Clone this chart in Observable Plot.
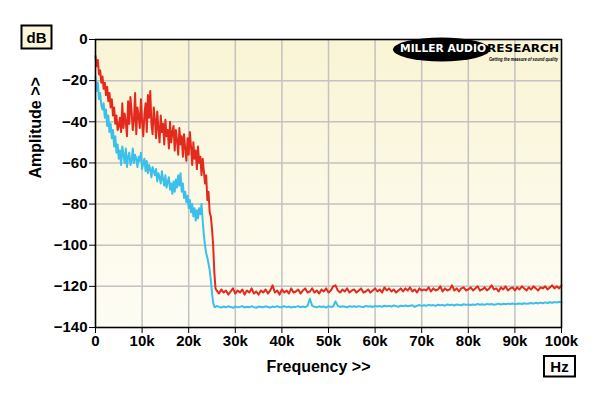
<!DOCTYPE html>
<html><head><meta charset="utf-8">
<script src="https://cdn.jsdelivr.net/npm/d3@7"></script>
<script src="https://cdn.jsdelivr.net/npm/@observablehq/plot@0.6"></script>
<style>body{margin:0;background:#fff}</style>
</head><body><div id="chart"></div>
<script>
// Frequency sampling: segment A 0..26 kHz every 0.25 kHz, segment B 26.5..100 kHz every 0.5 kHz
const stepA = 0.25, startB = 26.5, stepB = 0.5;

// Red trace (dB)
const redA = [
  -8, -13, -10, -17,   -15, -21, -18, -24,   -21, -27, -23, -30,   -26, -33, -29, -37,
  -33, -41, -37, -44,  -42, -38, -45, -31,   -43, -36, -40, -47,   -30, -41, -28, -35,
  -44, -39, -26, -46,  -33, -37, -43, -29,   -40, -47, -36, -31,   -45, -27, -38, -25,
  -41, -46, -33, -39,  -48, -35, -43, -50,   -37, -45, -41, -51,   -39, -47, -44, -53,
  -40, -50, -45, -42,  -54, -44, -49, -56,   -43, -51, -47, -57,   -46, -53, -59, -48,
  -56, -45, -52, -61,  -50, -58, -54, -63,   -52, -60, -57, -66,   -58, -64, -70, -66,
  -78, -74, -84, -86,  -92, -100, -113, -121,
  -122
];
const redB = [
  -123.5, -121.5, -123, -122, -124, -122.5, -121, -123.5, -122,
  -123, -121.5, -124, -122, -123, -121, -123.5, -122.5, -124, -122,
  -123, -121.5, -123.5, -122, -119.5, -123, -122, -124, -121.5, -123,
  -122, -123.5, -121, -123, -122.5, -121.5, -123.5, -122, -121, -123,
  -122.5, -121, -123, -122, -123.5, -121.5, -122.5, -121, -123, -122,
  -120, -119.5, -122, -123, -121.5, -122.5, -121, -123, -122, -121.5,
  -123, -122, -121, -123, -122.5, -121.5, -123, -122, -121, -122.5,
  -121.5, -123, -120.5, -122, -121, -122.5, -121.5, -123, -122, -121,
  -122.5, -121, -122, -120.5, -122.5, -121.5, -123, -121, -122, -121.5,
  -122, -120.5, -122.5, -121, -122, -121.5, -120, -122.5, -121, -122,
  -121.5, -119.5, -122, -121, -122.5, -121, -120.5, -122, -121.5, -120.5,
  -122, -121, -120, -122, -121.5, -120.5, -122, -121, -119.5, -121.5,
  -121, -122.5, -120.5, -121.5, -120, -122, -121, -120.5, -122, -120.5,
  -121.5, -120, -121, -122, -120.5, -121.5, -120, -121, -122, -120.5,
  -121, -120, -121.5, -120.5, -119.5, -121, -120, -121, -119.5
];

// Blue trace (dB)
const blueA = [
  -18, -25, -21, -29,  -26, -32, -34, -31,   -38, -34, -42, -37,   -45, -41, -48, -44,
  -52, -47, -55, -51,  -58, -54, -61, -52,   -56, -60, -53, -62,   -57, -55, -61, -59,
  -53, -60, -56, -58,  -62, -57, -59, -55,   -63, -60, -58, -64,   -59, -65, -61, -63,
  -67, -62, -64, -66,  -63, -69, -65, -67,   -70, -64, -68, -71,   -66, -72, -69, -67,
  -73, -70, -75, -69,  -74, -68, -72, -66,   -71, -65, -74, -70,   -77, -74, -79, -76,
  -82, -78, -84, -80,  -86, -82, -88, -83,   -87, -82, -85, -80,   -88, -95, -100, -104,
  -106, -109, -112, -117,  -123, -128, -130, -130,
  -129.5
];
const blueB = [
  -130, -130.3, -129.8, -130.2, -129.7, -130, -130.4, -129.8, -130.1,
  -130, -129.6, -130.3, -129.9, -130.2, -129.7, -130.1, -130.4, -129.8, -130,
  -130.2, -129.7, -130, -130.3, -129.8, -130.1, -129.6, -130.2, -130, -129.7,
  -130.1, -129.8, -130.3, -129.9, -130, -129.6, -130.2, -129.8, -130.1, -129.5,
  -126, -129.5, -129.9, -130.2, -129.7, -130, -129.8, -130.3, -129.6, -130,
  -129.8, -127.3, -129.5, -130, -129.7, -129.9, -130.2, -129.6, -129.9, -129.7,
  -130, -129.6, -129.9, -130.1, -129.5, -129.8, -129.7, -130, -129.5, -129.8,
  -129.6, -129.9, -129.4, -129.7, -129.5, -129.8, -129.3, -129.6, -129.9, -129.4,
  -129.6, -129.3, -129.7, -129.4, -129.2, -130, -129.4, -129.1, -129.5, -129.2,
  -129.4, -129, -129.3, -129.1, -129.5, -128.9, -129.2, -129, -129.4, -128.8,
  -129.1, -128.9, -129.3, -128.8, -129, -129.2, -128.7, -129, -128.8, -129.1,
  -128.8, -129, -128.6, -128.9, -128.7, -129, -128.5, -128.8, -128.6, -128.9,
  -128.7, -128.4, -128.8, -128.5, -128.7, -128.4, -128.6, -128.3, -128.7, -128.5,
  -128.3, -128.6, -128.2, -128.5, -128.3, -128.1, -128.4, -128, -128.3, -127.9,
  -128.2, -127.8, -128.1, -127.7, -128, -127.6, -127.9, -127.5, -127.8
];

const xTicks = [0, 10, 20, 30, 40, 50, 60, 70, 80, 90, 100];
const xTickLabels = ["0", "10k", "20k", "30k", "40k", "50k", "60k", "70k", "80k", "90k", "100k"];
const yTicks = [0, -20, -40, -60, -80, -100, -120, -140];

const xTitle = "Frequency >>";
const yTitle = "Amplitude >>";
const yUnit = "dB";
const xUnit = "Hz";
const logoMain = "MILLER AUDIO";
const logoSide = "RESEARCH";
const logoTag = "Getting the measure of sound quality";

const redColor = "#e42a1c";
const blueColor = "#3bbfeb";
const font = "'Liberation Sans', Arial, sans-serif";

function toRows(a, b) {
  return a.map((v, i) => ({f: i * stepA, db: v}))
    .concat(b.map((v, i) => ({f: startB + i * stepB, db: v})));
}
const redRows = toRows(redA, redB);
const blueRows = toRows(blueA, blueB);

const background = (index, scales, values, dims) => {
  const g = d3.create("svg:g");
  const lg = g.append("defs").append("linearGradient")
    .attr("id", "bgGrad").attr("x1", 0).attr("y1", 0).attr("x2", 0).attr("y2", 1);
  lg.append("stop").attr("offset", "0%").attr("stop-color", "#f9f4d4");
  lg.append("stop").attr("offset", "100%").attr("stop-color", "#fefdf5");
  g.append("rect")
    .attr("x", dims.marginLeft).attr("y", dims.marginTop)
    .attr("width", dims.width - dims.marginLeft - dims.marginRight)
    .attr("height", dims.height - dims.marginTop - dims.marginBottom)
    .attr("fill", "url(#bgGrad)");
  return g.node();
};

const decorations = (index, scales, values, dims) => {
  const g = d3.create("svg:g").attr("text-anchor", "start");
  // dB box
  g.append("rect").attr("x", 21.5).attr("y", 25.5).attr("width", 30).attr("height", 23)
    .attr("fill", "#faf6da").attr("stroke", "#000").attr("stroke-width", 2);
  g.append("text").attr("x", 36.5).attr("y", 37).attr("text-anchor", "middle")
    .attr("dominant-baseline", "central").attr("font-size", 15).attr("font-weight", "bold")
    .attr("font-family", font).text(yUnit);
  // Hz box
  g.append("rect").attr("x", 544).attr("y", 356).attr("width", 31).attr("height", 20.5)
    .attr("fill", "#fff").attr("stroke", "#000").attr("stroke-width", 2);
  g.append("text").attr("x", 559.5).attr("y", 366.5).attr("text-anchor", "middle")
    .attr("dominant-baseline", "central").attr("font-size", 15).attr("font-weight", "bold")
    .attr("font-family", font).text(xUnit);
  // Logo
  g.append("ellipse").attr("cx", 441.5).attr("cy", 49.5).attr("rx", 48.5).attr("ry", 12)
    .attr("fill", "#000");
  g.append("text").attr("x", 400).attr("y", 51.5).attr("font-size", 11)
    .attr("font-family", "'DejaVu Sans', sans-serif").attr("font-weight", "bold")
    .attr("fill", "#fff").attr("textLength", 86).attr("lengthAdjust", "spacingAndGlyphs")
    .text(logoMain);
  g.append("text").attr("x", 487).attr("y", 51.5).attr("font-size", 11)
    .attr("font-family", "'DejaVu Sans', sans-serif").attr("font-weight", "bold")
    .attr("fill", "#000").attr("textLength", 72).attr("lengthAdjust", "spacingAndGlyphs")
    .text(logoSide);
  g.append("text").attr("x", 489).attr("y", 60.5).attr("font-size", 5)
    .attr("font-family", font).attr("font-weight", "bold").attr("font-style", "italic")
    .attr("fill", "#000").attr("textLength", 69).attr("lengthAdjust", "spacingAndGlyphs")
    .text(logoTag);
  return g.node();
};

const chart = Plot.plot({
  width: 600,
  height: 396,
  marginLeft: 95,
  marginRight: 39,
  marginTop: 39,
  marginBottom: 69,
  x: {domain: [0, 100]},
  y: {domain: [-140, 0]},
  style: {fontFamily: font, fontSize: "15px", fontWeight: "bold", background: "#fff", color: "#000"},
  marks: [
    background,
    Plot.gridX(xTicks, {stroke: "#c2c2c2", strokeOpacity: 1, strokeWidth: 1.5}),
    Plot.gridY(yTicks, {stroke: "#c2c2c2", strokeOpacity: 1, strokeWidth: 1.5}),
    Plot.line(redRows, {x: "f", y: "db", stroke: redColor, strokeWidth: 2}),
    Plot.line(blueRows, {x: "f", y: "db", stroke: blueColor, strokeWidth: 2}),
    Plot.frame({stroke: "#000", strokeWidth: 1.5}),
    Plot.axisX(xTicks, {tickSize: 6, tickPadding: 2, label: null,
      tickFormat: d => xTickLabels[xTicks.indexOf(d)]}),
    Plot.axisY(yTicks, {tickSize: 6, tickPadding: 2, label: null}),
    Plot.text([xTitle], {frameAnchor: "bottom", lineAnchor: "middle", dx: -10, dy: 39, fontSize: 16}),
    Plot.text([yTitle], {frameAnchor: "left", lineAnchor: "middle", rotate: -90, dx: -60, dy: -5, fontSize: 16}),
    decorations
  ]
});
document.getElementById("chart").appendChild(chart);
</script>
</body></html>
